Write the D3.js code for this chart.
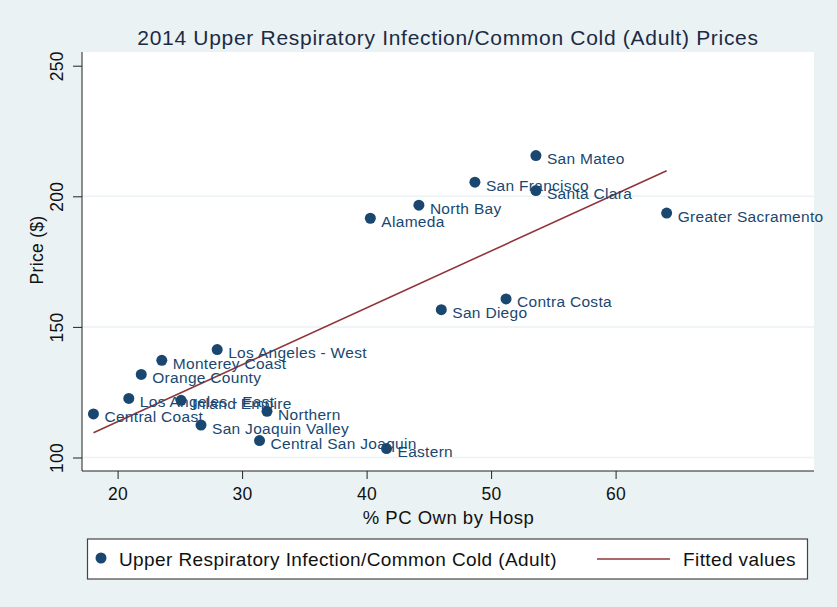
<!DOCTYPE html>
<html>
<head>
<meta charset="utf-8">
<script src="https://cdn.jsdelivr.net/npm/d3@7"></script>
<style>
  body { margin: 0; background: #eaf2f3; }
  svg { display: block; font-family: "Liberation Sans", Arial, Helvetica, sans-serif; }
</style>
</head>
<body>
<div id="chart"></div>
<script>
// regions
const regions = ['San Mateo', 'San Francisco', 'Santa Clara', 'North Bay', 'Alameda',
    'Greater Sacramento', 'Contra Costa', 'San Diego', 'Los Angeles - West', 'Monterey Coast',
    'Orange County', 'Los Angeles - East', 'Inland Empire', 'Central Coast', 'Northern',
    'San Joaquin Valley', 'Central San Joaquin', 'Eastern'];
const pctOwned = [53.6, 48.7, 53.6, 44.2, 40.3, 64.1, 51.2, 46.0, 28.0, 23.55,
    21.9, 20.9, 25.1, 18.06, 32.0, 26.7, 31.4, 41.6];
const price = [215.6, 205.4, 202.2, 196.6, 191.6, 193.6, 160.7, 156.6, 141.3, 137.2,
    131.8, 122.6, 121.9, 116.7, 117.7, 112.4, 106.5, 103.4];

// fitted values line (two end points)
const fitX = [18.06, 64.1];
const fitY = [109.5, 209.8];

const xTicks = [20, 30, 40, 50, 60];
const yTicks = [100, 150, 200, 250];

const width = 837, height = 607;
const plot = { left: 82, right: 814, top: 52, bottom: 471 };
const navy = '#1a476f', maroon = '#90353b', bg = '#eaf2f3';

const svg = d3.select('#chart').append('svg')
    .attr('width', width)
    .attr('height', height);

svg.append('rect').attr('width', width).attr('height', height).attr('fill', bg);

// scales
const x = d3.scaleLinear().domain([20, 60]).range([117.6, 615.6]);
const y = d3.scaleLinear().domain([100, 250]).range([457.5, 65.7]);

// plot region
svg.append('rect')
    .attr('x', plot.left).attr('y', plot.top)
    .attr('width', plot.right - plot.left).attr('height', plot.bottom - plot.top)
    .attr('fill', 'white');

// gridlines (not on the top tick)
svg.selectAll('.grid')
    .data(yTicks.filter(d => d < 250))
    .enter().append('line')
    .attr('x1', plot.left).attr('x2', plot.right)
    .attr('y1', d => y(d)).attr('y2', d => y(d))
    .attr('stroke', bg).attr('stroke-width', 1.5);

// axes
const yAxis = svg.append('g')
    .attr('transform', `translate(${plot.left},0)`)
    .call(d3.axisLeft(y).tickValues(yTicks).tickSize(9).tickPadding(4).tickSizeOuter(0));
yAxis.select('.domain').attr('d', `M0,${plot.top}V${plot.bottom}`);
yAxis.selectAll('.tick text')
    .attr('transform', 'rotate(-90)')
    .attr('x', 0).attr('y', -19)
    .attr('dy', 0)
    .attr('text-anchor', 'middle')
    .attr('font-size', 17.5)
    .attr('letter-spacing', 0.3)
    .attr('fill', '#111');

const xAxis = svg.append('g')
    .attr('transform', `translate(0,${plot.bottom})`)
    .call(d3.axisBottom(x).tickValues(xTicks).tickSize(8).tickPadding(9).tickSizeOuter(0));
xAxis.select('.domain').attr('d', `M${plot.left},0H${plot.right}`);
xAxis.selectAll('.tick text')
    .attr('font-size', 17.5)
    .attr('letter-spacing', 0.3)
    .attr('fill', '#111');
svg.selectAll('.domain, .tick line').attr('stroke', '#222').attr('stroke-width', 1);

// fitted line
svg.append('line')
    .attr('x1', x(fitX[0])).attr('y1', y(fitY[0]))
    .attr('x2', x(fitX[1])).attr('y2', y(fitY[1]))
    .attr('stroke', maroon).attr('stroke-width', 1.6);

// points and labels
const pts = regions.map((name, i) => ({ name, px: pctOwned[i], pr: price[i] }));

svg.selectAll('.dot')
    .data(pts)
    .enter().append('circle')
    .attr('cx', d => x(d.px))
    .attr('cy', d => y(d.pr))
    .attr('r', 5.5)
    .attr('fill', navy);

svg.selectAll('.lbl')
    .data(pts)
    .enter().append('text')
    .attr('x', d => x(d.px) + 11)
    .attr('y', d => y(d.pr) + 8.5)
    .attr('font-size', 15.5)
    .attr('letter-spacing', 0.3)
    .attr('fill', navy)
    .text(d => d.name);

// title and axis titles
svg.append('text')
    .attr('x', (plot.left + plot.right) / 2).attr('y', 44.5)
    .attr('text-anchor', 'middle')
    .attr('font-size', 21)
    .attr('letter-spacing', 0.7)
    .attr('fill', '#1c2a45')
    .text('2014 Upper Respiratory Infection/Common Cold (Adult) Prices');

svg.append('text')
    .attr('x', (plot.left + plot.right) / 2 + 0.5).attr('y', 524)
    .attr('text-anchor', 'middle')
    .attr('font-size', 18.5)
    .attr('letter-spacing', 0.5)
    .attr('fill', '#111')
    .text('% PC Own by Hosp');

svg.append('text')
    .attr('transform', `translate(43,250) rotate(-90)`)
    .attr('text-anchor', 'middle')
    .attr('font-size', 17.5)
    .attr('letter-spacing', 0.3)
    .attr('fill', '#111')
    .text('Price ($)');

// legend
const legend = svg.append('g');
legend.append('rect')
    .attr('x', 87.5).attr('y', 539)
    .attr('width', 720).attr('height', 40)
    .attr('fill', 'white').attr('stroke', '#444').attr('stroke-width', 1.2);
legend.append('circle').attr('cx', 101).attr('cy', 558).attr('r', 5.5).attr('fill', navy);
legend.append('text').attr('x', 119).attr('y', 565.5)
    .attr('font-size', 19).attr('letter-spacing', 0.4).attr('fill', '#111')
    .text('Upper Respiratory Infection/Common Cold (Adult)');
legend.append('line')
    .attr('x1', 597).attr('x2', 670).attr('y1', 559).attr('y2', 559)
    .attr('stroke', maroon).attr('stroke-width', 1.6);
legend.append('text').attr('x', 683).attr('y', 565.5)
    .attr('font-size', 19).attr('letter-spacing', 0.4).attr('fill', '#111')
    .text('Fitted values');
</script>
</body>
</html>
